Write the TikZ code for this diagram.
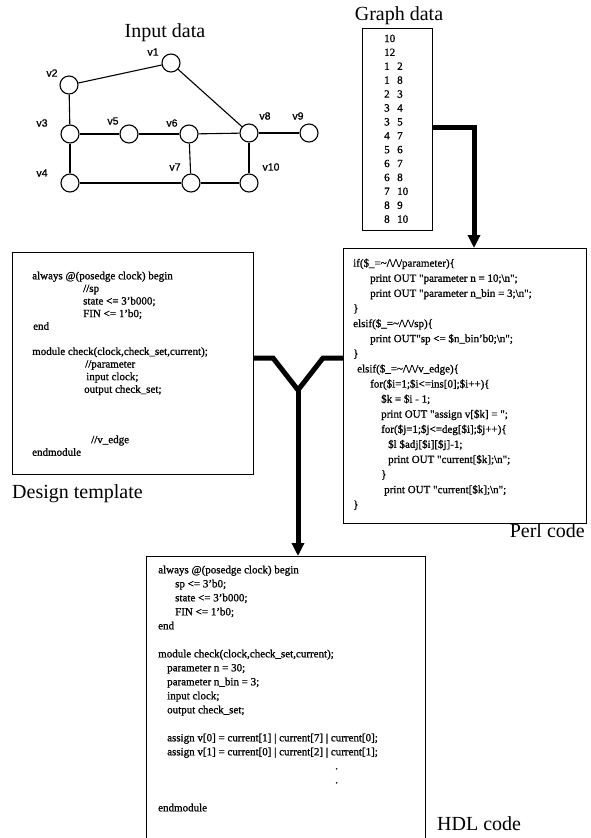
\documentclass[tikz,border=0pt]{standalone}
\usepackage{fontspec}
\setmainfont{Liberation Serif}
\newfontfamily\codefont{Liberation Serif}[FakeBold=1]
\newfontfamily\vlabfont{Liberation Sans}[FakeBold=1]
\usetikzlibrary{arrows.meta,positioning,calc}
\newcommand{\gpair}[2]{\makebox[13pt][l]{#1}#2}

\begin{document}
\begin{tikzpicture}[x=1pt,y=-1pt,
    vtx/.style={circle,draw,line width=1.1pt,minimum size=18pt,inner sep=0pt},
    vlab/.style={font=\vlabfont\fontsize{10.5}{12}\selectfont,inner sep=0pt},
    edge/.style={line width=1.1pt},
    title/.style={font=\fontsize{20}{24}\selectfont,inner sep=0pt},
    box/.style={draw,line width=1pt,inner sep=0pt,outer sep=0pt,anchor=north west},
    boxline/.style={line width=1pt},
    code/.style={align=left,inner sep=0pt,anchor=north west},
    flow/.style={line width=5pt},
    flowarr/.style={line width=5pt,-{Triangle[width=12pt,length=13pt]}}
  ]
  \useasboundingbox (0,0) rectangle (591,838);

  % input graph
  \node[title,anchor=base] (intitle) at (165,37.5) {Input data};
  \node[vtx] (v1) at (171,63) {};
  \node[vtx] (v2) at (69,85) {};
  \node[vtx] (v3) at (70,134) {};
  \node[vtx] (v4) at (70,183) {};
  \node[vtx] (v5) at (129,134) {};
  \node[vtx] (v6) at (189,134) {};
  \node[vtx] (v7) at (191,183) {};
  \node[vtx] (v8) at (249,133) {};
  \node[vtx] (v9) at (309,133) {};
  \node[vtx] (v10) at (249,183) {};
  \node[vlab] (lv1) at (153,52) {v1};
  \node[vlab] (lv2) at (52,73) {v2};
  \node[vlab] (lv3) at (42,123) {v3};
  \node[vlab] (lv4) at (42,173) {v4};
  \node[vlab] (lv5) at (113,121) {v5};
  \node[vlab] (lv6) at (172,123) {v6};
  \node[vlab] (lv7) at (175,167) {v7};
  \node[vlab] (lv8) at (265,116) {v8};
  \node[vlab] (lv9) at (298,116) {v9};
  \node[vlab] (lv10) at (271,167) {v10};
  \draw[edge] (v1) -- (v2);
  \draw[edge] (v1) -- (v8);
  \draw[edge] (v2) -- (v3);
  \draw[edge] (v3) -- (v4);
  \draw[edge] (v3) -- (v5);
  \draw[edge] (v4) -- (v7);
  \draw[edge] (v5) -- (v6);
  \draw[edge] (v6) -- (v7);
  \draw[edge] (v6) -- (v8);
  \draw[edge] (v7) -- (v10);
  \draw[edge] (v8) -- (v9);
  \draw[edge] (v8) -- (v10);

  % graph data
  \node[title,anchor=base] (gtitle) at (399,20) {Graph data};
  \node[box,minimum width=70pt,minimum height=202pt] (gdata) at (362,28) {};
  \node[code,font=\codefont\fontsize{11}{13.9}\selectfont] (gdatatext) at (384,34.5)
    {10\\12\\\gpair12\\\gpair18\\\gpair23\\\gpair34\\\gpair35\\\gpair47\\
     \gpair56\\\gpair67\\\gpair68\\\gpair7{10}\\\gpair89\\\gpair8{10}};

  % design template
  \node[box,minimum width=241pt,minimum height=222pt] (tmpl) at (12,252) {};
  \node[code,font=\codefont\fontsize{11}{12.6}\selectfont] (tmplcode) at (32,271.5)
    {always @(posedge clock) begin\\
     \hspace*{51pt}//sp\\
     \hspace*{51pt}state <= 3’b000;\\
     \hspace*{51pt}FIN <= 1’b0;\\
     \hspace*{1pt}end\\
     \mbox{}\\
     module check(clock,check\_set,current);\\
     \hspace*{53pt}//parameter\\
     \hspace*{54pt}input clock;\\
     \hspace*{52pt}output check\_set;\\
     \mbox{}\\ \mbox{}\\ \mbox{}\\
     \hspace*{59pt}//v\_edge\\
     endmodule};
  \node[title,anchor=base west] (tmpltitle) at (12,498) {Design template};

  % perl code
  \node[box,minimum width=243pt,minimum height=275pt] (perl) at (343,248) {};
  \node[code,font=\codefont\fontsize{11}{15.1}\selectfont] (perlcode) at (353,258.5)
    {if(\$\_=\textasciitilde/\textbackslash/\textbackslash/parameter)\{\\
     \hspace*{17pt}print OUT "parameter n = 10;\textbackslash n";\\
     \hspace*{17pt}print OUT "parameter n\_bin = 3;\textbackslash n";\\
     \}\\
     elsif(\$\_=\textasciitilde/\textbackslash/\textbackslash/sp)\{\\
     \hspace*{17pt}print OUT"sp <= \$n\_bin’b0;\textbackslash n";\\
     \}\\
     \hspace*{4pt}elsif(\$\_=\textasciitilde/\textbackslash/\textbackslash/v\_edge)\{\\
     \hspace*{17pt}for(\$i=1;\$i<=ins[0];\$i++)\{\\
     \hspace*{28pt}\$k = \$i - 1;\\
     \hspace*{28pt}print OUT "assign v[\$k] = ";\\
     \hspace*{28pt}for(\$j=1;\$j<=deg[\$i];\$j++)\{\\
     \hspace*{35pt}\$l \$adj[\$i][\$j]-1;\\
     \hspace*{35pt}print OUT "current[\$k];\textbackslash n";\\
     \hspace*{28pt}\}\\
     \hspace*{31pt}print OUT "current[\$k];\textbackslash n";\\
     \}};
  \node[title,anchor=base east] (perltitle) at (585,537) {Perl code};

  % hdl code (box runs off the bottom)
  \node[inner sep=0pt,outer sep=0pt,minimum width=279pt,minimum height=282pt,
        anchor=north west] (hdl) at (146,556) {};
  \draw[boxline] (hdl.south west) |- (hdl.north east) -- (hdl.south east);
  \node[code,font=\codefont\fontsize{11}{14}\selectfont] (hdlcode) at (158,565.5)
    {always @(posedge clock) begin\\
     \hspace*{17pt}sp <= 3’b0;\\
     \hspace*{17pt}state <= 3’b000;\\
     \hspace*{17pt}FIN <= 1’b0;\\
     end\\
     \mbox{}\\
     module check(clock,check\_set,current);\\
     \hspace*{9pt}parameter n = 30;\\
     \hspace*{9pt}parameter n\_bin = 3;\\
     \hspace*{9pt}input clock;\\
     \hspace*{9pt}output check\_set;\\
     \mbox{}\\
     \hspace*{9pt}assign v[0] = current[1] | current[7] | current[0];\\
     \hspace*{9pt}assign v[1] = current[0] | current[2] | current[1];\\
     \hspace*{177pt}.\\
     \hspace*{177pt}.\\
     \mbox{}\\
     endmodule};
  \node[title,anchor=base west] (hdltitle) at (437,830) {HDL code};

  % flows
  \coordinate (gbend) at (474,127);
  \draw[flowarr] (gdata.east |- gbend) -- (gbend) -- (gbend |- perl.north);
  \coordinate (yjoin) at (298,390);
  \coordinate (yleft) at (273,358);
  \coordinate (yright) at (323,358);
  \draw[flow] (tmpl.east |- yleft) -- (yleft) -- (yjoin) -- (yright)
    -- (perl.west |- yright);
  \draw[flowarr] (yjoin) -- (yjoin |- hdl.north);
\end{tikzpicture}
\end{document}
